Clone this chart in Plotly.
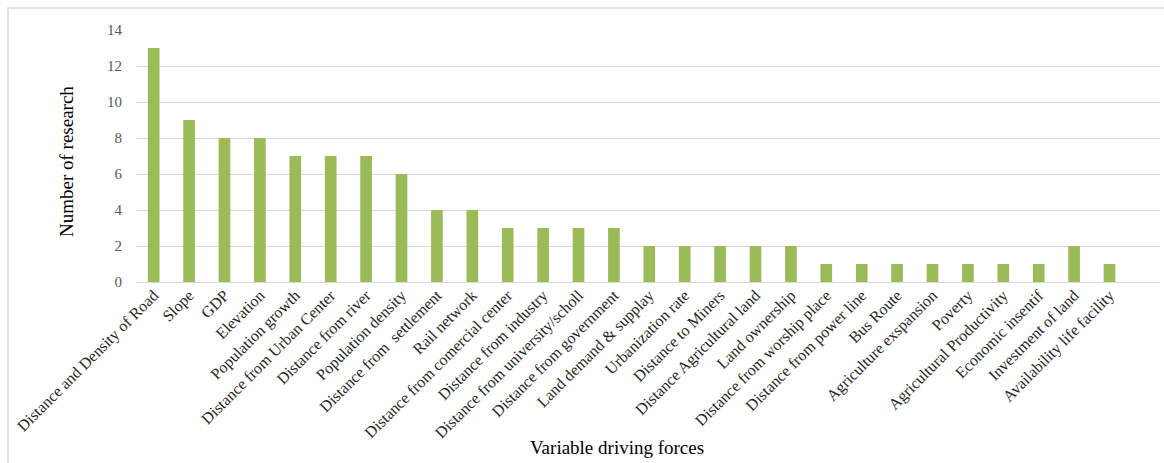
import plotly.graph_objects as go

# Driving-force variables and how many studies used each one
categories = [
    "Distance and Density of Road", "Slope", "GDP", "Elevation",
    "Population growth", "Distance from Urban Center", "Distance from river",
    "Population density", "Distance from  settlement", "Rail network",
    "Distance from comercial center", "Distance from industry",
    "Distance from university/scholl", "Distance from government",
    "Land demand & supplay", "Urbanization rate", "Distance to Miners",
    "Distance Agricultural land", "Land ownership", "Distance from worship place",
    "Distance from power line", "Bus Route", "Agriculture exspansion", "Poverty",
    "Agricultural Productivity", "Economic insentif", "Investment of land",
    "Availability life facility",
]
counts = [13, 9, 8, 8, 7, 7, 7, 6, 4, 4, 3, 3, 3, 3, 2, 2, 2, 2, 2,
          1, 1, 1, 1, 1, 1, 1, 2, 1]
y_ticks = [0, 2, 4, 6, 8, 10, 12, 14]

SERIF = "Liberation Serif, Times New Roman, serif"
W, H = 1164, 463
L, R, T, B = 136, 4, 30, 181
pw, ph = W - L - R, H - T - B

fig = go.Figure(go.Bar(
    x=list(range(len(categories))),
    y=counts,
    marker=dict(color="#9BBB59", line=dict(width=0)),
    width=0.33,
    hoverinfo="skip",
))

fig.update_layout(
    width=W, height=H,
    margin=dict(l=L, r=R, t=T, b=B, pad=0),
    paper_bgcolor="white", plot_bgcolor="white",
    showlegend=False,
    font=dict(family=SERIF, size=15, color="#404040"),
    xaxis=dict(
        tickmode="array",
        tickvals=list(range(len(categories))),
        ticktext=categories,
        tickangle=-45,
        tickfont=dict(family=SERIF, size=16, color="#262626"),
        range=[-0.5, -0.5 + pw / 35.4],
        showgrid=False, zeroline=False,
        showline=False, ticks="",
        ticklen=0,
    ),
    yaxis=dict(
        range=[0, 14],
        tickvals=y_ticks,
        tickfont=dict(family=SERIF, size=15, color="#595959"),
        showgrid=True, gridcolor="#d9d9d9", gridwidth=1,
        zeroline=True, zerolinecolor="#d9d9d9", zerolinewidth=1,
        showline=False, ticks="", ticklabelstandoff=13,
    ),
    shapes=[
        # outer chart frame (bottom and right edges fall off the page)
        dict(type="rect", xref="paper", yref="paper",
             x0=(8 - L) / pw, x1=(W + 20 - L) / pw,
             y0=-(B + 20) / ph, y1=1 + (T - 8) / ph,
             line=dict(color="#d9d9d9", width=1.5), layer="below"),
    ],
    annotations=[
        dict(text="Number of research", xref="paper", yref="paper",
             x=(66 - L) / pw, y=(H - B - 162) / ph, textangle=-90,
             showarrow=False, xanchor="center", yanchor="middle",
             font=dict(family=SERIF, size=19, color="#000000")),
        dict(text="Variable driving forces", xref="paper", yref="paper",
             x=(617 - L) / pw, y=(H - B - 448) / ph,
             showarrow=False, xanchor="center", yanchor="middle",
             font=dict(family=SERIF, size=19, color="#000000")),
    ],
)

fig.write_html("out.html")
